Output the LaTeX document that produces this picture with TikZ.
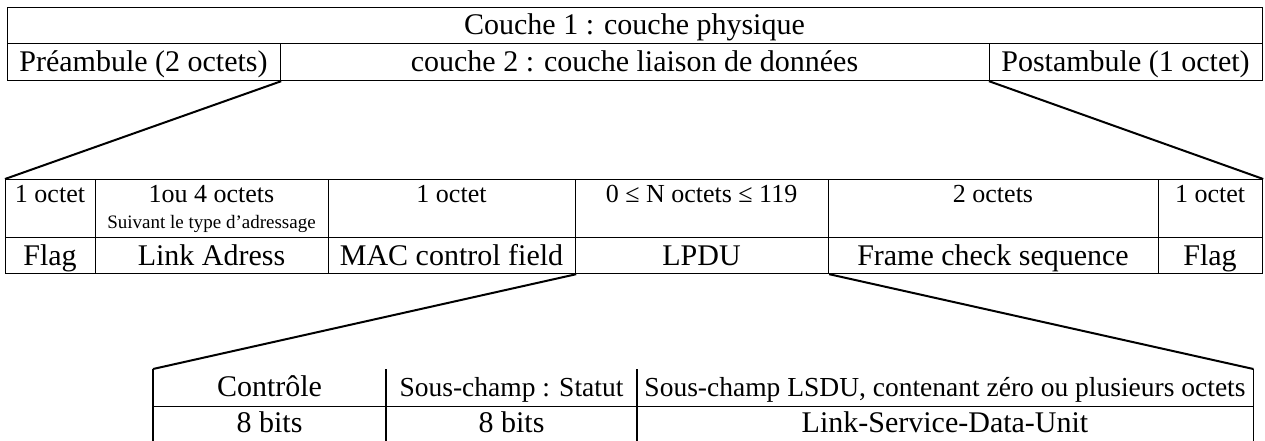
\documentclass[tikz,border=0pt]{standalone}
\usepackage{fontspec}
\setmainfont{Liberation Serif}
\begin{document}
\begin{tikzpicture}[x=1pt,y=-1pt]
\tikzset{
  cell/.style={draw, line width=1.2pt, inner sep=0pt, anchor=north west},
  ghost/.style={inner sep=0pt, anchor=north west},
  big/.style={font=\fontsize{30}{36}\selectfont, anchor=base, inner sep=0pt},
  mid/.style={font=\fontsize{26}{30}\selectfont, anchor=base, inner sep=0pt},
  bot/.style={font=\fontsize{27.5}{32}\selectfont, anchor=base, inner sep=0pt},
  tiny/.style={font=\fontsize{19}{22}\selectfont, anchor=base, inner sep=0pt},
  link/.style={line width=2pt},
  rule/.style={line width=1.2pt}
}
\useasboundingbox (0,0) rectangle (1265,441);
\fill[white] (0,0) rectangle (1265,441);

% ---- layer 1 / layer 2 frame
\node[cell, minimum width=1255, minimum height=36] (phy) at (7,7) {};
\node[cell, minimum width=273, minimum height=37] (pre) at (7,43) {};
\node[cell, minimum width=709, minimum height=37] (liai) at (280,43) {};
\node[cell, minimum width=273, minimum height=37] (post) at (989,43) {};
\node[big] (phyt) at (634.5,35) {Couche 1 : couche physique};
\node[big] (pret) at (143.5,72) {Préambule (2 octets)};
\node[big] (liait) at (634.5,72) {couche 2 : couche liaison de données};
\node[big] (postt) at (1125.5,72) {Postambule (1 octet)};

% ---- frame fields
\node[cell, minimum width=90,  minimum height=58] (h1) at (5,179) {};
\node[cell, minimum width=233, minimum height=58] (h2) at (95,179) {};
\node[cell, minimum width=247, minimum height=58] (h3) at (328,179) {};
\node[cell, minimum width=253, minimum height=58] (h4) at (575,179) {};
\node[cell, minimum width=330, minimum height=58] (h5) at (828,179) {};
\node[cell, minimum width=104, minimum height=58] (h6) at (1158,179) {};
\node[cell, minimum width=90,  minimum height=36] (flag1) at (5,237) {};
\node[cell, minimum width=233, minimum height=36] (addr) at (95,237) {};
\node[cell, minimum width=247, minimum height=36] (mac) at (328,237) {};
\node[cell, minimum width=253, minimum height=36] (lpdu) at (575,237) {};
\node[cell, minimum width=330, minimum height=36] (fcs) at (828,237) {};
\node[cell, minimum width=104, minimum height=36] (flag2) at (1158,237) {};

\node[mid] (h1t) at (50,202) {1 octet};
\node[mid] (h2t) at (211.5,202) {1ou 4 octets};
\node[tiny] (h2s) at (211.5,228) {Suivant le type d’adressage};
\node[mid] (h3t) at (451.5,202) {1 octet};
\node[mid] (h4t) at (701.5,202) {0 ≤ N octets ≤ 119};
\node[mid] (h5t) at (993,202) {2 octets};
\node[mid] (h6t) at (1210,202) {1 octet};
\node[big] (flag1t) at (50,265) {Flag};
\node[big] (addrt) at (211.5,265) {Link Adress};
\node[big] (mact) at (451.5,265) {MAC control field};
\node[big] (lpdut) at (701.5,265) {LPDU};
\node[big] (fcst) at (993,265) {Frame check sequence};
\node[big] (flag2t) at (1210,265) {Flag};

% ---- LPDU fields (open top and bottom)
\node[ghost, minimum width=233, minimum height=37] (ctl) at (153,369) {};
\node[ghost, minimum width=251, minimum height=37] (sta) at (386,369) {};
\node[ghost, minimum width=616, minimum height=37] (lsdu) at (637,369) {};
\node[ghost, minimum width=233, minimum height=35] (ctlb) at (153,406) {};
\node[ghost, minimum width=251, minimum height=35] (stab) at (386,406) {};
\node[ghost, minimum width=616, minimum height=35] (lsdub) at (637,406) {};
\draw[rule] (ctl.north west) -- (ctlb.south west);
\draw[rule] (sta.north west) -- (stab.south west);
\draw[rule] (lsdu.north west) -- (lsdub.south west);
\draw[rule] (lsdu.north east) -- (lsdub.south east);
\draw[rule] (ctl.south west) -- (lsdu.south east);

\node[big] (ctlt) at (269.5,396) {Contrôle};
\node[bot] (stat) at (511.5,396) {Sous-champ : Statut};
\node[bot] (lsdut) at (945,396) {Sous-champ LSDU, contenant zéro ou plusieurs octets};
\node[big] (ctlbt) at (269.5,432) {8 bits};
\node[big] (stabt) at (511.5,432) {8 bits};
\node[big] (lsdubt) at (945,432) {Link-Service-Data-Unit};

% ---- zoom connectors
\draw[link] (pre.south east) -- (h1.north west);
\draw[link] (post.south west) -- (h6.north east);
\draw[link] (mac.south east) -- (ctl.north west);
\draw[link] (lpdu.south east) -- (lsdu.north east);
\end{tikzpicture}
\end{document}
